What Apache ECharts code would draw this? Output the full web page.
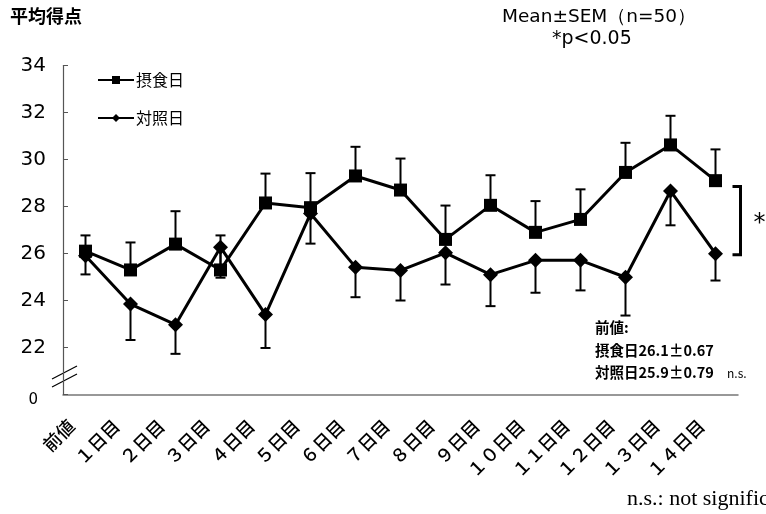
<!DOCTYPE html>
<html>
<head>
<meta charset="utf-8">
<script src="https://cdn.jsdelivr.net/npm/echarts@6/dist/echarts.min.js"></script>
<style>
  html, body { margin: 0; padding: 0; background: #fff; }
  #chart { width: 766px; height: 514px; }
</style>
</head>
<body>
<div id="chart"></div>
<script>
// Days on the x axis
const days = ['前値', '１日目', '２日目', '３日目', '４日目', '５日目', '６日目', '７日目',
  '８日目', '９日目', '１０日目', '１１日目', '１２日目', '１３日目', '１４日目'];

// 摂食日 (intake days): mean score and SEM (drawn upward)
const intakeMean = [26.1, 25.3, 26.4, 25.3, 28.15, 27.95, 29.3, 28.7, 26.6, 28.05, 26.9, 27.45, 29.45, 30.62, 29.1];
const intakeSem  = [0.67, 1.17, 1.4, 1.47, 1.25, 1.47, 1.24, 1.34, 1.44, 1.28, 1.33, 1.28, 1.26, 1.24, 1.33];

// 対照日 (control days): mean score and SEM (drawn downward)
const controlMean = [25.9, 23.85, 22.97, 26.27, 23.4, 27.7, 25.42, 25.28, 26.03, 25.1, 25.71, 25.71, 24.99, 28.66, 25.99];
const controlSem  = [0.79, 1.53, 1.24, 1.3, 1.42, 1.28, 1.28, 1.28, 1.35, 1.34, 1.38, 1.28, 1.63, 1.46, 1.14];

// y-axis ticks (the lowest one is printed as 0 below the axis break)
const yMin = 20, yMax = 34, yStep = 2;

// significance bracket span over the last day
const bracketHigh = 28.85, bracketLow = 25.95;

const cjk = '"Noto Sans CJK JP", "Noto Sans", sans-serif';
const wide = '"DejaVu Sans", sans-serif';

function errorBars(means, sems, dir) {
  return means.map((m, i) => [i, m, m + dir * sems[i]]);
}

function renderError(params, api) {
  const x = api.value(0);
  const p0 = api.coord([x, api.value(1)]);
  const p1 = api.coord([x, api.value(2)]);
  const half = 5;
  const style = { stroke: '#000', lineWidth: 2 };
  return {
    type: 'group',
    children: [
      { type: 'line', shape: { x1: p0[0], y1: p0[1], x2: p1[0], y2: p1[1] }, style: style },
      { type: 'line', shape: { x1: p1[0] - half, y1: p1[1], x2: p1[0] + half, y2: p1[1] }, style: style }
    ]
  };
}

const chart = echarts.init(document.getElementById('chart'), null, { renderer: 'canvas' });

const option = {
  animation: false,
  backgroundColor: '#fff',
  grid: { left: 63, right: 28, top: 65.5, bottom: 119.5, containLabel: false },
  legend: {
    orient: 'vertical',
    left: 97, top: 72, padding: 0,
    itemWidth: 36, itemHeight: 10, itemGap: 22,
    data: ['摂食日', '対照日'],
    textStyle: { fontFamily: cjk, fontSize: 16, color: '#000', padding: [0, 0, 0, -3] }
  },
  xAxis: {
    type: 'category',
    data: days,
    boundaryGap: true,
    axisLine: { lineStyle: { color: '#777', width: 1.5 } },
    axisTick: { inside: true, length: 5, lineStyle: { color: '#777' } },
    axisLabel: {
      rotate: 45, interval: 0, margin: 14,
      fontFamily: cjk, fontSize: 18, fontWeight: 500, color: '#000',
      padding: [0, 20, 0, 0]
    },
    splitLine: { show: false }
  },
  yAxis: {
    type: 'value',
    min: yMin, max: yMax, interval: yStep,
    axisLine: { show: true, lineStyle: { color: '#555', width: 1.2 } },
    axisTick: { show: true, inside: true, length: 5, lineStyle: { color: '#555' } },
    axisLabel: {
      margin: 17,
      fontFamily: wide, fontSize: 20, color: '#000',
      formatter: v => (v === yMin ? '{z|0}' : String(v)),
      rich: { z: { fontFamily: wide, fontSize: 15, padding: [12, 8, 0, 0], color: '#000' } }
    },
    splitLine: { show: false }
  },
  series: [
    {
      name: '摂食日', type: 'line', data: intakeMean,
      symbol: 'rect', symbolSize: 13,
      lineStyle: { color: '#000', width: 3 },
      itemStyle: { color: '#000' },
      z: 4
    },
    {
      name: '対照日', type: 'line', data: controlMean,
      symbol: 'diamond', symbolSize: 15,
      lineStyle: { color: '#000', width: 3 },
      itemStyle: { color: '#000' },
      z: 4
    },
    {
      type: 'custom', renderItem: renderError,
      data: errorBars(intakeMean, intakeSem, 1), z: 3, silent: true
    },
    {
      type: 'custom', renderItem: renderError,
      data: errorBars(controlMean, controlSem, -1), z: 3, silent: true
    }
  ]
};

chart.setOption(option);

// Annotations placed relative to the plotting area
const bracketTopY = chart.convertToPixel({ yAxisIndex: 0 }, bracketHigh);
const bracketBotY = chart.convertToPixel({ yAxisIndex: 0 }, bracketLow);
const bracketX = chart.convertToPixel({ xAxisIndex: 0 }, days.length - 1) + 25;
const yAxisX = chart.convertToPixel({ xAxisIndex: 0 }, 0) - 22.5;
const breakY = chart.convertToPixel({ yAxisIndex: 0 }, 21);

const bold = { fontFamily: cjk, fontSize: 14.5, fontWeight: 'bold', fill: '#000' };

chart.setOption({
  graphic: [
    { type: 'text', left: 10, top: 7, style: { text: '平均得点', fontFamily: cjk, fontSize: 18, fontWeight: 'bold', fill: '#000' } },
    { type: 'text', left: 502, top: 8, style: { text: 'Mean±SEM（n=50）', fontFamily: wide, fontSize: 18.5, fill: '#000' } },
    { type: 'text', left: 552, top: 30, style: { text: '*p<0.05', fontFamily: wide, fontSize: 19, fill: '#000' } },
    // bracket marking the significant difference
    {
      type: 'polyline', silent: true,
      shape: { points: [[bracketX - 8, bracketTopY], [bracketX, bracketTopY], [bracketX, bracketBotY], [bracketX - 8, bracketBotY]] },
      style: { stroke: '#000', lineWidth: 3, fill: null }
    },
    { type: 'text', x: bracketX + 13, y: (bracketTopY + bracketBotY) / 2 - 9, style: { text: '*', fontFamily: wide, fontSize: 24, fill: '#000' } },
    // baseline values
    { type: 'text', left: 595, top: 320, style: Object.assign({ text: '前値:' }, bold) },
    { type: 'text', left: 595, top: 343, style: Object.assign({ text: '摂食日26.1±0.67' }, bold) },
    { type: 'text', left: 595, top: 365, style: Object.assign({ text: '対照日25.9±0.79' }, bold) },
    { type: 'text', left: 727, top: 367, style: { text: 'n.s.', fontFamily: cjk, fontSize: 12, fill: '#000' } },
    // axis break marks
    {
      type: 'line', silent: true,
      shape: { x1: yAxisX - 11, y1: breakY + 8, x2: yAxisX + 14, y2: breakY - 5 },
      style: { stroke: '#000', lineWidth: 1.2 }
    },
    {
      type: 'line', silent: true,
      shape: { x1: yAxisX - 11, y1: breakY + 16, x2: yAxisX + 14, y2: breakY + 3 },
      style: { stroke: '#000', lineWidth: 1.2 }
    },
    { type: 'text', left: 627, top: 488, style: { text: 'n.s.: not significant', fontFamily: '"Liberation Serif", "DejaVu Serif", serif', fontSize: 22, fill: '#000' } }
  ]
});
</script>
</body>
</html>
